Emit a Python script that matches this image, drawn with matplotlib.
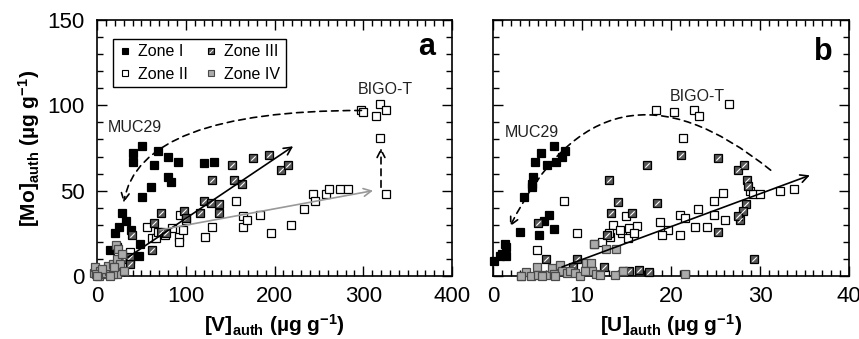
import matplotlib
matplotlib.use('Agg')
import matplotlib.pyplot as plt
from matplotlib.path import Path
from matplotlib.lines import Line2D
from matplotlib.legend_handler import HandlerTuple
from matplotlib.ticker import MultipleLocator

plt.rcParams['font.family'] = ['Liberation Sans', 'DejaVu Sans']
plt.rcParams['mathtext.fontset'] = 'custom'
plt.rcParams['mathtext.rm'] = 'Liberation Sans'
plt.rcParams['mathtext.bf'] = 'Liberation Sans:bold'
plt.rcParams['mathtext.it'] = 'Liberation Sans:italic'

# ---- panel a: [V]auth vs [Mo]auth ----
a_z1_v = [40, 51, 40, 69, 64, 80, 91, 80, 83, 61, 51, 120, 132, 28, 33, 38, 25, 20, 15, 48, 47, 22]
a_z1_mo = [72, 76, 67, 73, 65, 70, 67, 58, 55, 52, 46, 66, 67, 37, 32, 27, 29, 25, 15, 19, 12, 17]

a_z2_v = [20, 37, 37, 56, 62, 67, 69, 77, 84, 92, 92, 97, 93, 100, 122, 130, 157, 164, 165, 169, 184, 196,
          219, 233, 243, 246, 258, 261, 274, 283, 298, 300, 319, 314, 326, 319, 326]
a_z2_mo = [6, 14, 10, 29, 22, 22, 26, 24, 28, 23, 20, 27, 36, 33, 23, 29, 44, 35, 29, 33, 36, 25,
           30, 39, 48, 44, 48, 51, 51, 51, 97, 96, 101, 94, 97, 81, 48]

a_z3_v = [24, 26, 30, 37, 37, 39, 62, 64, 72, 72, 78, 98, 100, 116, 120, 128, 137, 137, 130, 152, 154,
          163, 176, 194, 207, 215]
a_z3_mo = [8, 6, 10, 11, 7, 24, 15, 31, 37, 26, 25, 38, 34, 37, 44, 43, 42, 37, 56, 65, 56,
           54, 69, 71, 62, 65]

a_z4_v = [-3, -2, 3, 2, 8, 10, 14, 12, 18, 22, 21, 24, 28, 23, 18, -1, 26, 19, 6, 15, 30, 0]
a_z4_mo = [2, 5, 3, 0, 1, 2, 3, 6, 7, 10, 18, 16, 13, 1, 1, 1, 7, 5, 4, 0, 3, 0]

# ---- panel b: [U]auth vs [Mo]auth ----
b_z1_u = [6.8, 8.1, 5.4, 7.1, 7.8, 4.7, 6.1, 4.5, 4.4, 4.35, 3.5, 6.3, 5.7, 3.0, 5.2, 6.9, 1.35, 1.0, 1.5,
          0.15, 1.5, 0.8]
b_z1_mo = [76, 73, 72, 67, 70, 67, 65, 58, 54, 52, 46, 36, 32, 26, 24, 27.5, 19, 13, 12, 9, 17, 12]

b_z2_u = [18.3, 20.3, 22.6, 23.1, 26.5, 21.3, 8.0, 9.4, 4.9, 25.8, 24.8, 28.9, 29.2, 30.0, 32.2, 33.8,
          23.0, 21.0, 21.6, 24.8, 26.1, 22.7, 24.0, 21.0, 18.8, 19.7, 19.0, 14.9, 13.5, 14.5, 15.3,
          15.2, 16.2, 15.8, 13.2, 12.3, 13.0, 11.4, 14.3]
b_z2_mo = [97, 96, 97, 94, 101, 81, 44, 25, 15, 48.5, 44, 50, 48, 48, 50, 51,
           39, 36, 34, 36, 33, 29, 29, 24, 31.5, 27, 24, 35, 30, 25, 28,
           22, 29.5, 25, 23, 20, 25, 19, 27]

b_z3_u = [21.1, 25.3, 17.3, 13.0, 14.1, 18.4, 13.3, 15.6, 5.0, 27.5, 28.2, 28.5, 28.7, 28.4, 28.1, 27.7,
          27.5, 25.3, 29.3, 12.8, 6.0, 9.4, 12.5, 14.6, 16.4, 17.5, 9.0, 15.3]
b_z3_mo = [71, 69, 65, 56, 43.5, 43, 37, 37, 31, 62, 65, 56, 53, 42, 38, 33,
           35, 26, 10, 24, 10, 10, 5.5, 3, 3.5, 2.5, 5.5, 3]

b_z4_u = [3.1, 3.7, 4.3, 4.9, 5.0, 6.0, 6.6, 6.8, 7.5, 7.8, 8.3, 8.7, 9.2, 10.5, 11.0, 11.1, 11.6, 11.4,
          12.7, 13.8, 13.7, 14.6, 21.6, 3.2, 5.5, 7.0, 9.8, 10.3, 12.0]
b_z4_mo = [0, 2.5, 0, 5.5, 0.5, 0.6, 4.5, 1, 6.4, 2.7, 1.5, 3, 1.5, 7.4, 7.6, 3, 1, 19,
           16, 16, 0.6, 3, 1.2, 0, 0, 0, 0, 3, 0.3]

zone_names = ['Zone I', 'Zone II', 'Zone III', 'Zone IV']

ms = 5.2
slash = Path([(-1, -1), (1, 1)], [Path.MOVETO, Path.LINETO])
styles = [dict(mfc='black', mec='black'),
          dict(mfc='white', mec='black'),
          dict(mfc='#585858', mec='black'),
          dict(mfc='#ababab', mec='#4a4a4a')]


def draw_zones(ax, sets):
    for k, (x, y) in enumerate(sets):
        ax.plot(x, y, ls='none', marker='s', ms=ms, mew=0.9, clip_on=False, zorder=3 + k, **styles[k])
        if k == 2:
            # white diagonal inside the zone III squares
            ax.plot(x, y, ls='none', marker=slash, ms=ms * 0.6, mfc='none', mec='white', mew=0.8,
                    clip_on=False, zorder=3 + k)


def style_axes(ax, xmax, xmajor, xminor):
    ax.set_xlim(0, xmax)
    ax.set_ylim(0, 150)
    ax.xaxis.set_major_locator(MultipleLocator(xmajor))
    ax.xaxis.set_minor_locator(MultipleLocator(xminor))
    ax.yaxis.set_major_locator(MultipleLocator(50))
    ax.yaxis.set_minor_locator(MultipleLocator(10))
    ax.tick_params(which='both', direction='in', top=True, right=True, width=1)
    ax.tick_params(which='major', length=7, labelsize=16)
    ax.tick_params(axis='x', which='major', pad=7)
    ax.tick_params(axis='y', which='major', pad=9)
    ax.tick_params(which='minor', length=4)
    for s in ax.spines.values():
        s.set_linewidth(1.2)


def arrow(ax, tip, start, color='black', dashed=False, conn='arc3'):
    ax.annotate('', xy=tip, xytext=start, zorder=10,
                arrowprops=dict(arrowstyle='->,head_length=0.55,head_width=0.28', color=color, lw=1.2,
                                ls=(0, (4, 3)) if dashed else '-', connectionstyle=conn,
                                shrinkA=0, shrinkB=0))


fig = plt.figure(figsize=(8.59, 3.39), dpi=100)
ax_a = fig.add_axes([97 / 859, 63 / 339, 355 / 859, 256 / 339])
ax_b = fig.add_axes([493 / 859, 63 / 339, 356 / 859, 256 / 339])

style_axes(ax_a, 400, 100, 10)
style_axes(ax_b, 40, 10, 1)
ax_b.tick_params(labelleft=False)

draw_zones(ax_a, [(a_z1_v, a_z1_mo), (a_z2_v, a_z2_mo), (a_z3_v, a_z3_mo), (a_z4_v, a_z4_mo)])
draw_zones(ax_b, [(b_z1_u, b_z1_mo), (b_z2_u, b_z2_mo), (b_z3_u, b_z3_mo), (b_z4_u, b_z4_mo)])

# arrows panel a
arrow(ax_a, (30, 43), (298, 97), dashed=True, conn='angle3,angleA=180,angleB=80')
arrow(ax_a, (320, 75), (320, 52), dashed=True)
arrow(ax_a, (221, 76), (35, 11))
arrow(ax_a, (311, 50), (71, 27), color='#999999')
# arrows panel b
arrow(ax_b, (1.9, 29), (31.2, 62), dashed=True, conn='arc3,rad=0.62')
arrow(ax_b, (35.6, 59), (7.75, 5.3))

ax_a.text(12.5, 87, 'MUC29', fontsize=11.5, va='center', color='#222222')
ax_a.text(294, 109, 'BIGO-T', fontsize=11.5, va='center', color='#222222')
ax_b.text(1.35, 84, 'MUC29', fontsize=11.5, va='center', color='#222222')
ax_b.text(19.9, 105, 'BIGO-T', fontsize=11.5, va='center', color='#222222')

ax_a.text(0.952, 0.863, 'a', transform=ax_a.transAxes, fontsize=22, fontweight='bold', ha='right', va='baseline')
ax_b.text(0.955, 0.845, 'b', transform=ax_b.transAxes, fontsize=22, fontweight='bold', ha='right', va='baseline')

ax_a.set_xlabel(r'[V]$_{\mathbf{auth}}$ (µg g$^{\mathbf{-1}}$)', fontsize=15, fontweight='bold', labelpad=4)
ax_b.set_xlabel(r'[U]$_{\mathbf{auth}}$ (µg g$^{\mathbf{-1}}$)', fontsize=15, fontweight='bold', labelpad=4)
ax_a.set_ylabel(r'[Mo]$_{\mathbf{auth}}$ (µg g$^{\mathbf{-1}}$)', fontsize=15, fontweight='bold', labelpad=4)

# legend
handles = []
for k in range(4):
    h = Line2D([], [], ls='none', marker='s', ms=4.5, mew=0.8, **styles[k])
    if k == 2:
        h = (h, Line2D([], [], ls='none', marker=slash, ms=2.7, mfc='none', mec='white', mew=0.7))
    handles.append(h)
leg = ax_a.legend(handles, zone_names, ncol=2, loc='upper left', bbox_to_anchor=(0.022, 0.958),
                  fontsize=11.5, handlelength=0.8, handletextpad=0.4, columnspacing=1.1,
                  borderpad=0.35, labelspacing=0.45, fancybox=False, framealpha=1,
                  handler_map={tuple: HandlerTuple(ndivide=1)})
leg.get_frame().set_edgecolor('black')
leg.get_frame().set_linewidth(1.0)

fig.savefig('out.png', dpi=100)
